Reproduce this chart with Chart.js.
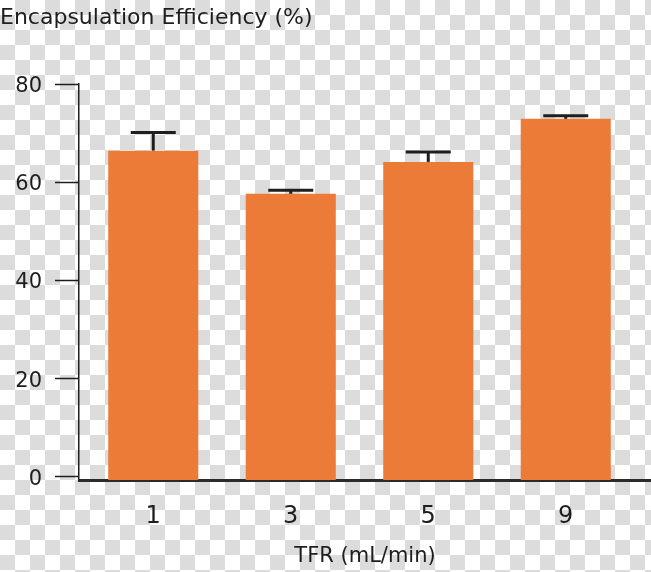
<!DOCTYPE html>
<html>
<head>
<meta charset="utf-8">
<script src="https://cdn.jsdelivr.net/npm/chart.js@4.4.1/dist/chart.umd.min.js"></script>
<style>
  html, body {
    margin: 0;
    padding: 0;
  }
  body {
    width: 651px;
    height: 572px;
    background: repeating-conic-gradient(#dcdcdc 0 25%, #ffffff 0 50%) 0 0 / 30px 30px;
  }
  #chart {
    display: block;
  }
</style>
</head>
<body>
<canvas id="chart" width="651" height="572"></canvas>
<script>
    const categories = ["1", "3", "5", "9"];
    const efficiency = [66.4, 57.6, 64.1, 72.9];
    const errorUp = [3.7, 0.7, 2.0, 0.6];
    const yTicks = [0, 20, 40, 60, 80];

    const yMin = -0.8;
    const barColor = "#ec7b38";
    const inkColor = "#1e1e1e";
    const fontFamily = "'DejaVu Sans', sans-serif";

// upper error bars, only the + side like in the figure
const errorBars = {
    id: "errorBars",
    afterDatasetsDraw(chart) {
        let ctx = chart.ctx;
        let yScale = chart.scales.y;
        let meta = chart.getDatasetMeta(0);
        ctx.save();
        ctx.strokeStyle = inkColor;
        ctx.lineWidth = 3;
        meta.data.forEach((bar, i) => {
            let top = yScale.getPixelForValue(efficiency[i]);
            let cap = yScale.getPixelForValue(efficiency[i] + errorUp[i]);
            ctx.beginPath();
            ctx.moveTo(bar.x, top);
            ctx.lineTo(bar.x, cap);
            ctx.stroke();
            ctx.beginPath();
            ctx.moveTo(bar.x - 22.5, cap);
            ctx.lineTo(bar.x + 22.5, cap);
            ctx.stroke();
        });
        ctx.restore();
    },
};

let ctx = document.getElementById("chart");
let myChart = new Chart(ctx, {
    type: "bar",
    data: {
        datasets: [{
            data: categories.map((c, i) => ({ x: i, y: efficiency[i] })),
            backgroundColor: barColor,
            borderWidth: 0,
            base: yMin,
            barPercentage: 0.655,
            categoryPercentage: 1,
        }, ],
    },
    options: {
        responsive: false,
        animation: false,
        layout: {
            padding: { left: 0, right: 0, top: 0, bottom: 0 },
        },
        plugins: {
            legend: { display: false },
            tooltip: { enabled: false },
            title: {
                display: true,
                text: "Encapsulation Efficiency (%)",
                align: "start",
                color: inkColor,
                font: { family: fontFamily, size: 22, weight: "normal" },
                padding: { top: 5, bottom: 52.6 },
            },
        },
        scales: {
            x: {
                type: "linear",
                offset: false,
                min: -0.54,
                max: 3.62,
                grid: { display: false, drawTicks: false, offset: false },
                border: { display: true, color: "#2b2b2b", width: 3 },
                afterFit: (s) => {
                    s.height = 92;
                },
                afterBuildTicks: (s) => {
                    s.ticks = s.ticks.filter(
                        (t) => Number.isInteger(t.value) && t.value >= 0 && t.value < categories.length
                    );
                },
                ticks: {
                    stepSize: 1,
                    includeBounds: false,
                    autoSkip: false,
                    maxRotation: 0,
                    padding: 22,
                    color: inkColor,
                    font: { family: fontFamily, size: 24 },
                    callback: (v) => categories[v],
                },
                title: {
                    display: true,
                    text: "TFR (mL/min)",
                    color: inkColor,
                    font: { family: fontFamily, size: 21 },
                    padding: { top: 0, bottom: 3 },
                },
            },
            y: {
                min: yMin,
                max: 80,
                afterFit: (s) => {
                    s.width = 79;
                },
                afterBuildTicks: (s) => {
                    s.ticks = yTicks.map((v) => ({ value: v }));
                },
                grid: {
                    display: true,
                    drawOnChartArea: false,
                    drawTicks: true,
                    tickLength: 24,
                    tickWidth: 1.5,
                    tickColor: inkColor,
                },
                border: { display: true, color: inkColor, width: 1.5 },
                ticks: {
                    padding: 13,
                    labelOffset: 3,
                    color: inkColor,
                    font: { family: fontFamily, size: 21 },
                },
            },
        },
    },
    plugins: [errorBars],
});
</script>
</body>
</html>
